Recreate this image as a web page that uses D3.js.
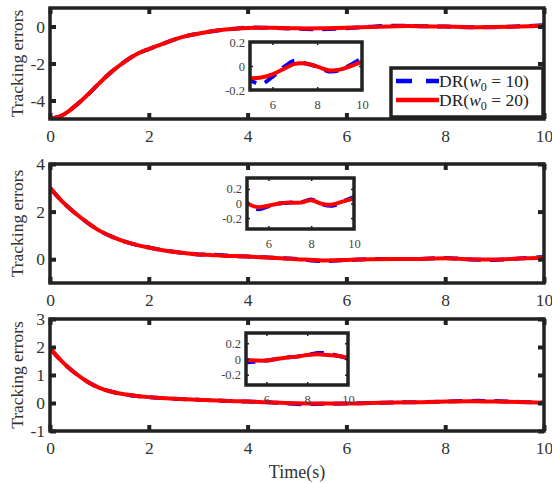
<!DOCTYPE html>
<html>
<head>
<meta charset="utf-8">
<script src="https://cdn.jsdelivr.net/npm/d3@7"></script>
<style>
  body { margin: 0; background: #fff; }
  svg { display: block; font-family: "Liberation Serif", "Times New Roman", serif; }
</style>
</head>
<body>
<svg id="chart" width="552" height="483"></svg>
<script>
// time samples (s)
const time = [0, 0.25, 0.5, 0.75, 1, 1.25, 1.5, 1.75, 2, 2.25, 2.5, 2.75, 3, 3.25, 3.5, 3.75, 4, 4.5,
  5, 5.5, 6, 6.5, 7, 7.5, 8, 8.5, 9, 9.5, 10];

// panel 1 tracking error
const e1_w20 = [-5, -4.8, -4.32, -3.72, -3.06, -2.44, -1.92, -1.5, -1.22, -0.97, -0.72, -0.52, -0.39, -0.27, -0.18,
  -0.12, -0.08, -0.07, -0.1, -0.095, -0.07, -0.025, 0.018, 0.02, -0.005, -0.035, -0.03, 0.0, 0.035];
const e1_w10 = [-5, -4.8, -4.32, -3.72, -3.06, -2.44, -1.92, -1.5, -1.22, -0.97, -0.72, -0.52, -0.39, -0.27, -0.18,
  -0.12, -0.06, -0.08, -0.12, -0.15, -0.09, -0.01, 0.045, 0.02, -0.005, -0.045, -0.035, 0.01, 0.065];

// panel 2 tracking error
const e2_w20 = [3, 2.42, 1.95, 1.55, 1.2, 0.95, 0.75, 0.6, 0.49, 0.39, 0.31, 0.25, 0.2, 0.18, 0.15,
  0.13, 0.11, 0.06, 0.0, -0.05, -0.03, 0.0, 0.012, 0.012, 0.045, -0.005, -0.015, 0.03, 0.065];
const e2_w10 = [3, 2.42, 1.95, 1.55, 1.2, 0.95, 0.75, 0.6, 0.49, 0.39, 0.31, 0.25, 0.2, 0.19, 0.17,
  0.13, 0.11, 0.06, 0.01, -0.08, -0.04, 0.0, 0.012, 0.012, 0.055, -0.01, -0.03, 0.03, 0.09];

// panel 3 tracking error
const e3_w20 = [1.95, 1.47, 1.08, 0.77, 0.54, 0.4, 0.31, 0.25, 0.21, 0.18, 0.15, 0.13, 0.12, 0.1, 0.08,
  0.065, 0.05, 0.02, -0.01, -0.02, -0.02, 0.0, 0.02, 0.03, 0.05, 0.06, 0.05, 0.04, 0.01];
const e3_w10 = [1.95, 1.47, 1.08, 0.77, 0.54, 0.4, 0.31, 0.25, 0.21, 0.18, 0.15, 0.13, 0.12, 0.1, 0.08,
  0.065, 0.05, 0.02, -0.04, -0.03, -0.02, 0.0, 0.02, 0.03, 0.05, 0.075, 0.07, 0.04, 0.01];

const xTicks = [0, 2, 4, 6, 8, 10];
const insetXTicks = [6, 8, 10];
const insetYTicks = [-0.2, 0, 0.2];
const legendLabels = ["10", "20"];

const svg = d3.select("#chart");
const frameColor = "#222";
const x0 = 50, x1 = 544;

const panels = [
  { top: 8, bottom: 119, yDomain: [-5, 1], yTicks: [-4, -2, 0], w10: e1_w10, w20: e1_w20,
    inset: { l: 250, r: 362, t: 42, b: 90, yDomain: [-0.2, 0.2] }, legend: true },
  { top: 164, bottom: 283, yDomain: [-1, 4], yTicks: [0, 2, 4], w10: e2_w10, w20: e2_w20,
    inset: { l: 247, r: 354, t: 178, b: 229, yDomain: [-0.35, 0.35] } },
  { top: 319, bottom: 431, yDomain: [-1, 3], yTicks: [-1, 0, 1, 2, 3], w10: e3_w10, w20: e3_w20,
    inset: { l: 246, r: 348, t: 333, b: 385, yDomain: [-0.33, 0.33] } }
];

function drawSeries(g, x, y, p, clipId, w) {
  const line = d3.line()
    .x((d, i) => x(time[i]))
    .y(d => y(d))
    .curve(d3.curveCatmullRom.alpha(0.5));
  const lg = g.append("g").attr("clip-path", "url(#" + clipId + ")");
  lg.append("path").datum(p.w10)
    .attr("d", line).attr("fill", "none")
    .attr("stroke", "#0000ff").attr("stroke-width", w)
    .attr("stroke-dasharray", "14,9");
  lg.append("path").datum(p.w20)
    .attr("d", line).attr("fill", "none")
    .attr("stroke", "#ff0000").attr("stroke-width", w);
}

function styleAxis(g, sw) {
  g.select(".domain").remove();
  g.selectAll(".tick line").attr("stroke", frameColor).attr("stroke-width", sw);
}

panels.forEach((p, k) => {
  const x = d3.scaleLinear().domain([0, 10]).range([x0, x1]);
  const y = d3.scaleLinear().domain(p.yDomain).range([p.bottom, p.top]);
  const g = svg.append("g");

  svg.append("clipPath").attr("id", "clip" + k)
    .append("rect").attr("x", x0).attr("y", p.top).attr("width", x1 - x0).attr("height", p.bottom - p.top);

  drawSeries(g, x, y, p, "clip" + k, 4);

  // axes, ticks inward on all four sides
  const fmt = d => String(d);
  const ax = g.append("g").attr("transform", "translate(0," + p.bottom + ")")
    .call(d3.axisBottom(x).tickValues(xTicks).tickSize(-6).tickPadding(11).tickFormat(fmt));
  styleAxis(ax, 4);
  const axT = g.append("g").attr("transform", "translate(0," + p.top + ")")
    .call(d3.axisTop(x).tickValues(xTicks).tickSize(-6).tickFormat(""));
  styleAxis(axT, 4);
  const ay = g.append("g").attr("transform", "translate(" + x0 + ",0)")
    .call(d3.axisLeft(y).tickValues(p.yTicks).tickSize(-6).tickPadding(5).tickFormat(fmt));
  styleAxis(ay, 4);
  const ayR = g.append("g").attr("transform", "translate(" + x1 + ",0)")
    .call(d3.axisRight(y).tickValues(p.yTicks).tickSize(-6).tickFormat(""));
  styleAxis(ayR, 4);
  g.selectAll(".tick text").attr("font-size", 17.5).attr("fill", "#333")
    .attr("font-family", "Liberation Serif, serif");

  g.append("rect").attr("x", x0).attr("y", p.top)
    .attr("width", x1 - x0).attr("height", p.bottom - p.top)
    .attr("fill", "none").attr("stroke", frameColor).attr("stroke-width", 3.5);

  // y label
  g.append("text")
    .attr("transform", "translate(23," + ((p.top + p.bottom) / 2) + ") rotate(-90)")
    .attr("text-anchor", "middle").attr("font-size", 17.5).attr("fill", "#333")
    .text("Tracking errors");

  // inset
  const ins = p.inset;
  const xi = d3.scaleLinear().domain([5, 10]).range([ins.l, ins.r]);
  const yi = d3.scaleLinear().domain(ins.yDomain).range([ins.b, ins.t]);
  const gi = svg.append("g");
  gi.append("rect").attr("x", ins.l).attr("y", ins.t)
    .attr("width", ins.r - ins.l).attr("height", ins.b - ins.t).attr("fill", "#fff");
  svg.append("clipPath").attr("id", "iclip" + k)
    .append("rect").attr("x", ins.l).attr("y", ins.t).attr("width", ins.r - ins.l).attr("height", ins.b - ins.t);
  drawSeries(gi, xi, yi, p, "iclip" + k, 4);

  const ix = gi.append("g").attr("transform", "translate(0," + ins.b + ")")
    .call(d3.axisBottom(xi).tickValues(insetXTicks).tickSize(-3).tickPadding(10).tickFormat(fmt));
  styleAxis(ix, 1.5);
  const ixT = gi.append("g").attr("transform", "translate(0," + ins.t + ")")
    .call(d3.axisTop(xi).tickValues(insetXTicks).tickSize(-3).tickFormat(""));
  styleAxis(ixT, 1.5);
  const iy = gi.append("g").attr("transform", "translate(" + ins.l + ",0)")
    .call(d3.axisLeft(yi).tickValues(insetYTicks).tickSize(-3).tickPadding(5).tickFormat(fmt));
  styleAxis(iy, 1.5);
  const iyR = gi.append("g").attr("transform", "translate(" + ins.r + ",0)")
    .call(d3.axisRight(yi).tickValues(insetYTicks).tickSize(-3).tickFormat(""));
  styleAxis(iyR, 1.5);
  gi.selectAll(".tick text").attr("font-size", 12.5).attr("fill", "#444")
    .attr("font-family", "Liberation Serif, serif");
  gi.append("rect").attr("x", ins.l).attr("y", ins.t)
    .attr("width", ins.r - ins.l).attr("height", ins.b - ins.t)
    .attr("fill", "none").attr("stroke", frameColor).attr("stroke-width", 3.5);

  // legend
  if (p.legend) {
    const lgX = 391, lgY = 68, lgW = 152, lgH = 49;
    const lg = svg.append("g");
    lg.append("rect").attr("x", lgX).attr("y", lgY).attr("width", lgW).attr("height", lgH)
      .attr("fill", "#fff").attr("stroke", frameColor).attr("stroke-width", 3.5);
    legendLabels.forEach((lab, i) => {
      const cy = lgY + 13 + i * 19;
      lg.append("line").attr("x1", lgX + 5).attr("x2", lgX + 48).attr("y1", cy).attr("y2", cy)
        .attr("stroke", i === 0 ? "#0000ff" : "#ff0000").attr("stroke-width", 4.5)
        .attr("stroke-dasharray", i === 0 ? "16,14" : null);
      const t = lg.append("text").attr("x", lgX + 48).attr("y", cy + 6)
        .attr("font-size", 17.5).attr("fill", "#222");
      t.append("tspan").text("DR(");
      t.append("tspan").attr("font-style", "italic").text("w");
      t.append("tspan").attr("font-size", 12).attr("dy", 4).text("0");
      t.append("tspan").attr("dy", -4).text(" = " + lab + ")");
    });
  }
});

// x label
svg.append("text").attr("x", 297).attr("y", 478).attr("text-anchor", "middle")
  .attr("font-size", 18).attr("fill", "#333").text("Time(s)");
</script>
</body>
</html>
